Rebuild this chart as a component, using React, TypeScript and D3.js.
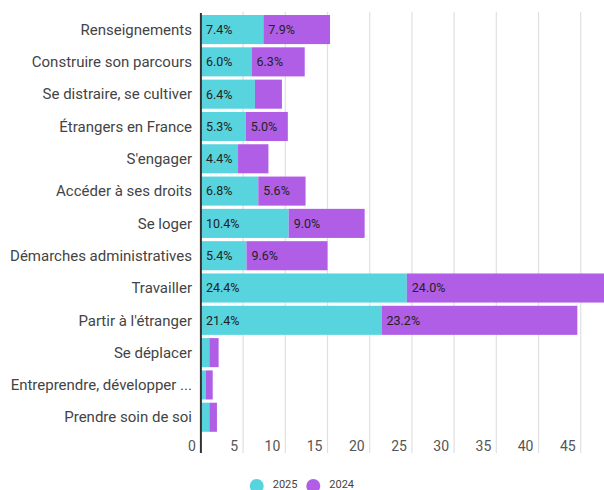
import React from "react";
import * as d3 from "d3";

const categories = [
  "Renseignements",
  "Construire son parcours",
  "Se distraire, se cultiver",
  "Étrangers en France",
  "S'engager",
  "Accéder à ses droits",
  "Se loger",
  "Démarches administratives",
  "Travailler",
  "Partir à l'étranger",
  "Se déplacer",
  "Entreprendre, développer ...",
  "Prendre soin de soi",
];
const values2025 = [7.4, 6.0, 6.4, 5.3, 4.4, 6.8, 10.4, 5.4, 24.4, 21.4, 1.0, 0.6, 1.0];
const values2024 = [7.9, 6.3, 3.2, 5.0, 3.6, 5.6, 9.0, 9.6, 24.0, 23.2, 1.1, 0.8, 0.9];
const series = ["2025", "2024"];
const xTicks = [0, 5, 10, 15, 20, 25, 30, 35, 40, 45];

const colors = ["#57d4de", "#b05ee6"];

export default function App() {
  const W = 604;
  const H = 490;
  const x0 = 200.9;
  const pxPerUnit = 8.44;
  const x = d3.scaleLinear().domain([0, 50]).range([x0, x0 + 50 * pxPerUnit]);
  const y = d3
    .scaleBand<string>()
    .domain(categories)
    .range([13.4, 433.4])
    .paddingInner(0.1)
    .paddingOuter(0.05);
  const gridTop = 12;
  const gridBottom = 453;

  const rows = categories.map((c, i) => ({
    c,
    segs: [
      { s: 0, a: 0, b: values2025[i] },
      { s: 1, a: values2025[i], b: values2025[i] + values2024[i] },
    ],
  }));

  return (
    <svg
      width={W}
      height={H}
      style={{ position: "absolute", left: 0, top: 0, fontFamily: "Roboto, 'Open Sans', sans-serif" }}
    >
      <defs>
        <clipPath id="plot">
          <rect x={x0} y={0} width={W - x0} height={H} />
        </clipPath>
      </defs>
      {xTicks.slice(1).map((t) => (
        <line key={t} x1={x(t)} x2={x(t)} y1={gridTop} y2={gridBottom} stroke="#e0e0e0" strokeWidth={1.2} />
      ))}
      <g clipPath="url(#plot)">
        {rows.map((r) =>
          r.segs.map((sg) => (
            <rect
              key={r.c + sg.s}
              x={x(sg.a)}
              y={y(r.c)}
              width={x(sg.b) - x(sg.a)}
              height={y.bandwidth()}
              fill={colors[sg.s]}
            />
          ))
        )}
      </g>
      {rows.map((r) =>
        r.segs
          .filter((sg) => sg.b - sg.a >= 4)
          .map((sg) => (
            <text
              key={"l" + r.c + sg.s}
              x={x(sg.a) + 5}
              y={(y(r.c) as number) + y.bandwidth() / 2}
              dy="0.35em"
              fontSize={12.5}
              fill="#222"
            >
              {(sg.b - sg.a).toFixed(1)}%
            </text>
          ))
      )}
      {categories.map((c) => (
        <text
          key={"c" + c}
          x={192}
          y={(y(c) as number) + y.bandwidth() / 2}
          dy="0.35em"
          textAnchor="end"
          fontSize={15}
          fill="#444"
        >
          {c}
        </text>
      ))}
      <line x1={x0} x2={x0} y1={13} y2={gridBottom} stroke="#333" strokeWidth={2} />
      {xTicks.map((t) => (
        <text key={"t" + t} x={x(t) - 5} y={446} dy="0.35em" textAnchor="end" fontSize={14} fill="#555">
          {t}
        </text>
      ))}
      {series.map((s, i) => (
        <g key={s} transform={`translate(${256.7 + i * 56.6},486)`}>
          <circle r={7} fill={colors[i]} />
          <text x={16} y={-1.5} dy="0.35em" fontSize={11} fill="#444">
            {s}
          </text>
        </g>
      ))}
    </svg>
  );
}
